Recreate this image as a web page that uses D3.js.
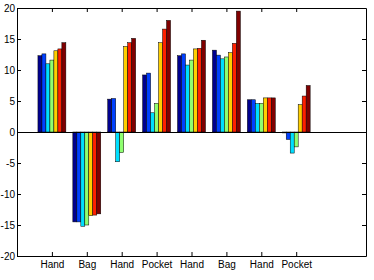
<!DOCTYPE html>
<html>
<head>
<meta charset="utf-8">
<script src="https://cdn.jsdelivr.net/npm/d3@7"></script>
<style>
  body { margin: 0; background: #fff; }
  svg { display: block; }
  text { font-family: "Liberation Sans", Arial, sans-serif; font-size: 10px; fill: #000; }
</style>
</head>
<body>
<svg id="chart" width="374" height="280"></svg>
<script>
'use strict';

// group labels (one per x tick)
var categories = ['Hand', 'Bag', 'Hand', 'Pocket', 'Hand', 'Bag', 'Hand', 'Pocket'];

// one array per series, one value per group
var s1 = [12.3, -14.5, 5.3, 9.2, 12.3, 13.2, 5.2, -0.15];
var s2 = [12.6, -14.5, 5.4, 9.5, 12.6, 12.4, 5.2, -1.2];
var s3 = [11.0, -15.2, -4.8, 3.1, 10.8, 11.8, 4.6, -3.4];
var s4 = [11.6, -15.0, -3.3, 4.6, 11.6, 12.1, 4.6, -2.4];
var s5 = [13.1, -13.5, 13.8, 14.4, 13.4, 12.8, 5.5, 4.4];
var s6 = [13.4, -13.4, 14.4, 16.6, 13.5, 14.3, 5.5, 5.8];
var s7 = [14.4, -13.2, 15.1, 18.0, 14.8, 19.5, 5.5, 7.5];

var seriesColors = ['#00008f', '#0040ff', '#00dfff', '#8fff70', '#ffcf00', '#ff2000', '#800000'];
var yTicks = [-20, -15, -10, -5, 0, 5, 10, 15, 20];

var series = [s1, s2, s3, s4, s5, s6, s7];

var margin = {top: 8, right: 8, bottom: 24, left: 17};
var width = 374 - margin.left - margin.right;
var height = 280 - margin.top - margin.bottom;

var svg = d3.select('#chart');
var g = svg.append('g')
  .attr('transform', 'translate(' + margin.left + ',' + margin.top + ')');

var x = d3.scaleLinear().domain([0, 10]).range([0, width]);
var y = d3.scaleLinear().domain([-20, 20]).range([height, 0]);

var groupWidth = 0.8;
var barWidth = groupWidth / series.length;

// bars
series.forEach(function(vals, si) {
  g.append('g').selectAll('rect')
    .data(vals)
    .enter()
    .append('rect')
    .attr('x', function(d, i) {
      return x(i + 1 - groupWidth / 2 + si * barWidth);
    })
    .attr('width', x(barWidth) - x(0))
    .attr('y', function(d) { return y(Math.max(0, d)); })
    .attr('height', function(d) { return Math.abs(y(d) - y(0)); })
    .style('fill', seriesColors[si])
    .style('stroke', '#000')
    .style('stroke-width', 0.5);
});

// baseline at zero
g.append('line')
  .attr('x1', 0).attr('x2', width)
  .attr('y1', y(0) + 0.5).attr('y2', y(0) + 0.5)
  .style('stroke', '#000')
  .style('stroke-width', 1);

// axes, ticks pointing inward like matlab
var xTickVals = d3.range(1, categories.length + 1);

g.append('g')
  .attr('transform', 'translate(0,' + height + ')')
  .call(d3.axisBottom(x).tickValues(xTickVals)
    .tickFormat(function(d) { return categories[d - 1]; })
    .tickSizeInner(-4).tickSizeOuter(0).tickPadding(5));

g.append('g')
  .call(d3.axisTop(x).tickValues(xTickVals).tickFormat('')
    .tickSizeInner(-4).tickSizeOuter(0));

// plain hyphen for negatives, like the original
g.append('g')
  .call(d3.axisLeft(y).tickValues(yTicks)
    .tickFormat(function(d) { return String(d); })
    .tickSizeInner(-4).tickSizeOuter(0).tickPadding(2));

g.append('g')
  .attr('transform', 'translate(' + width + ',0)')
  .call(d3.axisRight(y).tickValues(yTicks).tickFormat('')
    .tickSizeInner(-4).tickSizeOuter(0));

g.selectAll('.domain, .tick line').style('stroke', '#000');
g.selectAll('.tick text').style('font-size', '10px');
</script>
</body>
</html>
